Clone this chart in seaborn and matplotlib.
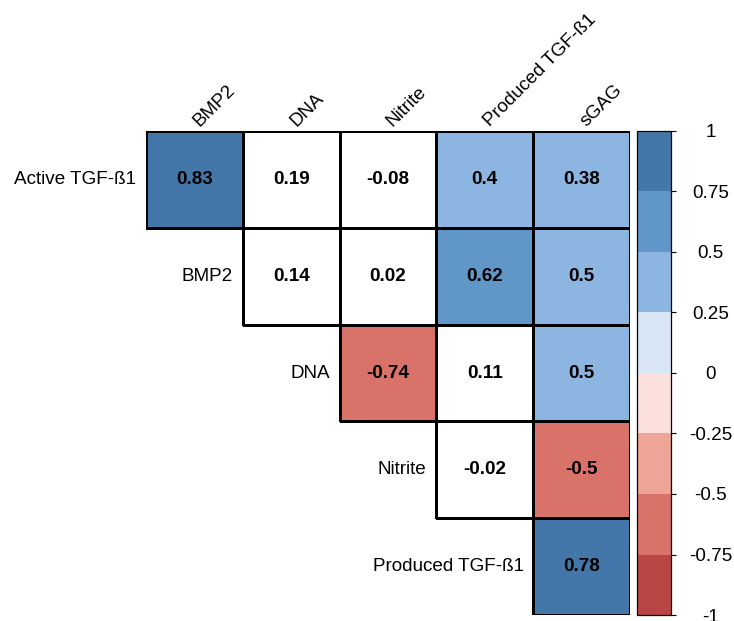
import numpy as np
import pandas as pd
import matplotlib
matplotlib.use("Agg")
import matplotlib.pyplot as plt
from matplotlib.colors import ListedColormap
import seaborn as sns

# ---- data ----
row_labels = ["Active TGF-ß1", "BMP2", "DNA", "Nitrite", "Produced TGF-ß1"]
col_labels = ["BMP2", "DNA", "Nitrite", "Produced TGF-ß1", "sGAG"]

row_active = [0.83, 0.19, -0.08, 0.40, 0.38]
row_bmp2 = [np.nan, 0.14, 0.02, 0.62, 0.497]
row_dna = [np.nan, np.nan, -0.74, 0.11, 0.497]
row_nitrite = [np.nan, np.nan, np.nan, -0.02, -0.503]
row_produced = [np.nan, np.nan, np.nan, np.nan, 0.78]

# cells shown blank (non-significant)
sig_active = [True, False, False, True, True]
sig_bmp2 = [False, False, False, True, True]
sig_dna = [False, False, True, False, True]
sig_nitrite = [False, False, False, False, True]
sig_produced = [False, False, False, False, True]

palette = ["#BA4545", "#D9736A", "#EFA598", "#FBE0DD",
           "#D8E5F4", "#8DB5E1", "#6096C8", "#4477A9"]
cbar_ticks = [-1, -0.75, -0.5, -0.25, 0, 0.25, 0.5, 0.75, 1]
cbar_ticklabels = ["-1", "-0.75", "-0.5", "-0.25", "0", "0.25", "0.5", "0.75", "1"]

# ---- build tables ----
corr = pd.DataFrame([row_active, row_bmp2, row_dna, row_nitrite, row_produced],
                    index=row_labels, columns=col_labels)
sig = np.array([sig_active, sig_bmp2, sig_dna, sig_nitrite, sig_produced])
empty = corr.isna().values


def fmt(v):
    if np.isnan(v):
        return ""
    s = f"{v:.2f}".rstrip("0").rstrip(".")
    return "0" if s in ("-0", "") else s


annot = np.array([[fmt(v) for v in r] for r in corr.values])

plt.rcParams["font.family"] = ["Liberation Sans", "DejaVu Sans"]
FS = 13.6
LW = 0.75

fig = plt.figure(figsize=(7.34, 6.21), dpi=100)
W, H = 734, 621
ax = fig.add_axes([146 / W, 1 - 615 / H, 484 / W, 484 / H])
cax = fig.add_axes([637 / W, 1 - 615 / H, 34 / W, 484 / H])

annot_kws = {"color": "black", "weight": "bold", "size": FS}

# non-significant cells: white
mask_white = empty | sig
sns.heatmap(corr, mask=mask_white, cmap=ListedColormap(["white"]), vmin=-1, vmax=1,
            annot=annot, fmt="", annot_kws=annot_kws, linewidths=LW,
            linecolor="black", cbar=False, ax=ax)
mesh_white = ax.collections[-1]
# significant cells: coloured
mask_col = empty | ~sig
sns.heatmap(corr, mask=mask_col, cmap=ListedColormap(palette), vmin=-1, vmax=1,
            annot=annot, fmt="", annot_kws=annot_kws, linewidths=LW,
            linecolor="black", cbar=True, cbar_ax=cax, ax=ax)
mesh_col = ax.collections[-1]

# no borders on masked (undrawn) cells
for mesh, m in ((mesh_white, mask_white), (mesh_col, mask_col)):
    ec = [(0, 0, 0, 0) if v else (0, 0, 0, 1) for v in m.ravel()]
    mesh.set_edgecolors(ec)

ax.set_xlim(0, 5)
ax.set_ylim(5, 0)
ax.set_xticks([])
ax.set_yticks([])
ax.set_xlabel("")
ax.set_ylabel("")

for i, lab in enumerate(row_labels):
    ax.text(i - 0.1, i + 0.5, lab, ha="right", va="center", fontsize=FS, clip_on=False)
for j, lab in enumerate(col_labels):
    ax.text(j + 0.55, -0.045, lab, rotation=45, ha="left", va="baseline",
            rotation_mode="anchor", fontsize=FS, clip_on=False)

# colorbar styling
cb = mesh_col.colorbar
cb.set_ticks(cbar_ticks)
cb.set_ticklabels(cbar_ticklabels)
cb.outline.set_visible(True)
cb.outline.set_edgecolor("black")
cb.outline.set_linewidth(0.9)
cax.tick_params(axis="y", length=3.6, width=0.8, color="black", pad=25,
                labelsize=FS, direction="out")
for t in cax.get_yticklabels():
    t.set_horizontalalignment("center")

fig.savefig("out.png", dpi=100)
